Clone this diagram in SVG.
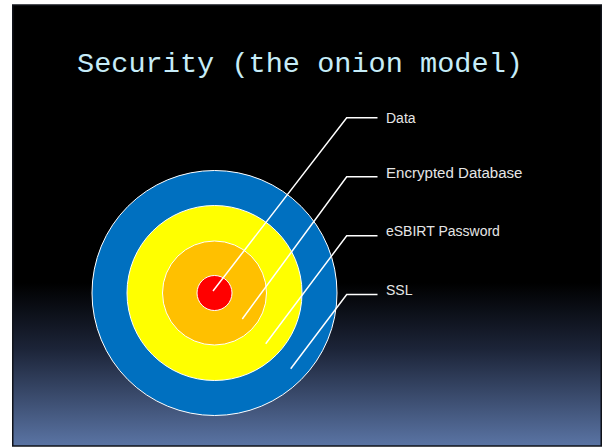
<svg xmlns="http://www.w3.org/2000/svg" width="602" height="447" viewBox="0 0 602 447">
  <defs>
    <linearGradient id="slideBg" x1="0" y1="0" x2="0" y2="1">
      <stop offset="0" stop-color="#000000"/>
      <stop offset="0.63" stop-color="#000000"/>
      <stop offset="0.78" stop-color="#1c2438"/>
      <stop offset="1" stop-color="#5a74a4"/>
    </linearGradient>
    <style>
      .ring { stroke: #ffffff; stroke-width: 1; }
      .label { font-family: "Liberation Sans", Arial, sans-serif; font-size: 14px; fill: #e6e6e6; }
      .title { font-family: "Liberation Mono", "DejaVu Sans Mono", monospace; font-size: 28.5px; fill: #c6ecf8; }
      .leader { fill: none; stroke: #ffffff; stroke-width: 1.5; }
    </style>
  </defs>

  <!-- page and slide background -->
  <rect x="0" y="0" width="602" height="447" fill="#ffffff"/>
  <rect x="12.75" y="5" width="588.5" height="441" fill="url(#slideBg)" stroke="#10131a" stroke-width="1.5"/>

  <text class="title" x="77" y="72" textLength="446" lengthAdjust="spacingAndGlyphs">Security (the onion model)</text>

  <!-- onion layers, outermost first -->
  <g id="ssl">
    <circle class="ring" cx="214.5" cy="293" r="122.5" fill="#0070c0"/>
    <text class="label" x="386" y="295">SSL</text>
  </g>
  <g id="esbirt-password">
    <circle class="ring" cx="214.5" cy="293" r="87.5" fill="#ffff00"/>
    <text class="label" x="386" y="236">eSBIRT Password</text>
  </g>
  <g id="encrypted-database">
    <circle class="ring" cx="214.5" cy="293" r="52" fill="#ffc000"/>
    <text class="label" x="386" y="177.5" textLength="136.5" lengthAdjust="spacingAndGlyphs">Encrypted Database</text>
  </g>
  <g id="data">
    <circle class="ring" cx="214.5" cy="293" r="17.5" fill="#ff0000"/>
    <text class="label" x="386" y="123">Data</text>
  </g>

  <!-- leader lines from each label into its layer -->
  <g id="connectors">
    <polyline class="leader" points="377.5,117.7 346.7,117.7 213,291"/>
    <polyline class="leader" points="377.5,176.7 346.7,176.7 242.3,319"/>
    <polyline class="leader" points="377.5,235.7 346.7,235.7 265.7,343.7"/>
    <polyline class="leader" points="377.5,294.5 346.7,294.5 290.7,368.7"/>
  </g>
</svg>
